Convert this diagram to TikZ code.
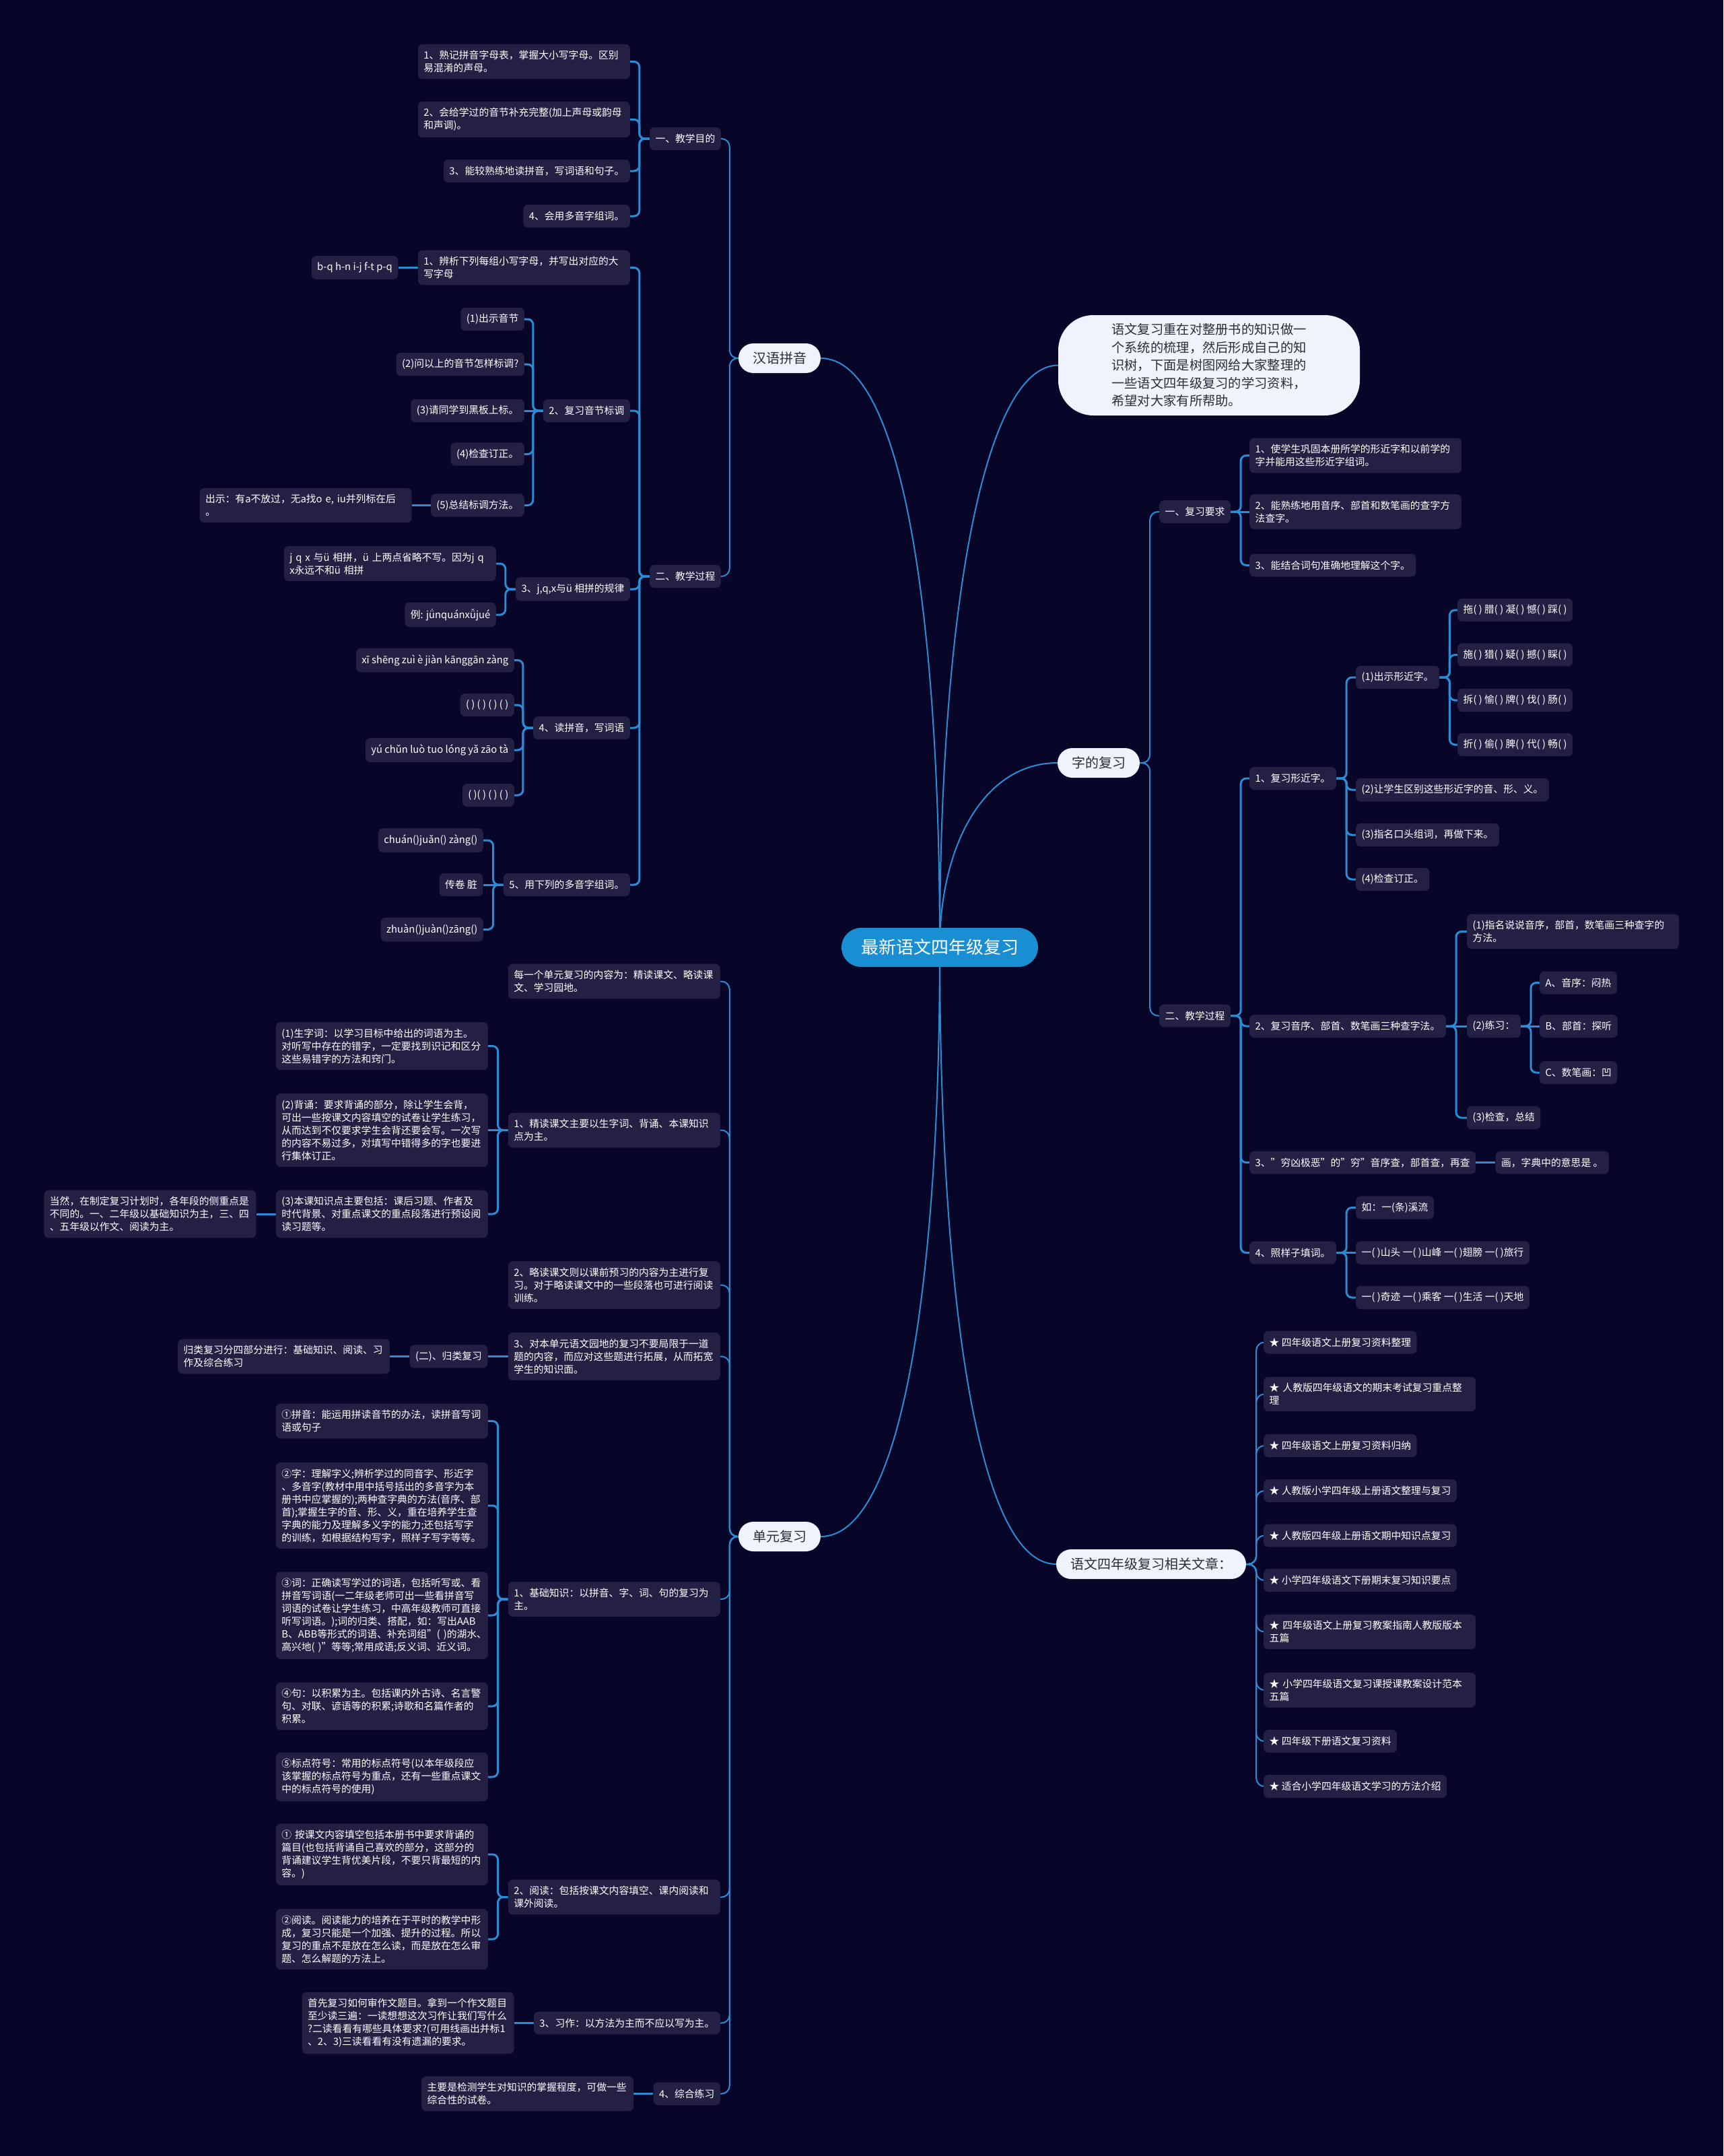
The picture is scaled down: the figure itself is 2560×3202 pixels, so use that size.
\documentclass[tikz,border=0pt]{standalone}
\usepackage{fontspec}
\setmainfont{Noto Sans CJK SC}
\usepackage{tikz}
\usetikzlibrary{positioning}
\definecolor{bgc}{RGB}{8,6,40}
\definecolor{boxc}{RGB}{35,32,68}
\definecolor{lnk}{RGB}{43,140,214}
\definecolor{topc}{RGB}{238,243,253}
\definecolor{rootc}{RGB}{26,142,210}
\definecolor{darkt}{RGB}{45,45,55}
\pgfdeclarelayer{back}
\pgfsetlayers{back,main}
\tikzset{
  leaf/.style={fill=boxc, text=white, rounded corners=7pt, inner xsep=8.5pt, inner ysep=9.5pt,
    minimum height=34pt, align=left, font=\fontsize{14.8}{19}\selectfont},
  wrapbox/.style={leaf, text width=298pt},
  topic/.style={fill=topc, text=darkt, rounded corners=22pt, minimum height=44pt, inner xsep=21pt,
    font=\fontsize{20}{24}\selectfont},
  rootnode/.style={fill=rootc, text=white, rounded corners=29pt, minimum height=58pt, inner xsep=29pt,
    font=\fontsize{26}{30}\selectfont},
  intro/.style={fill=topc, text=darkt, rounded corners=52pt, minimum width=448pt, minimum height=149pt,
    align=left, font=\fontsize{19.3}{26.5}\selectfont},
  trunk/.style={draw=lnk, line width=2pt},
  lbr/.style={draw=lnk, line width=3pt, rounded corners=8pt,
    to path={(\tikztostart.west) -- ([xshift=-15pt]\tikztostart.west) |- (\tikztotarget.east)}},
  rbr/.style={draw=lnk, line width=3pt, rounded corners=8pt,
    to path={(\tikztostart.east) -- ([xshift=15pt]\tikztostart.east) |- (\tikztotarget.west)}},
  lbrt/.style={draw=lnk, line width=2pt, rounded corners=12pt,
    to path={(\tikztostart.west) -- ([xshift=-13pt]\tikztostart.west) |- (\tikztotarget.east)}},
  rbrt/.style={draw=lnk, line width=2pt, rounded corners=12pt,
    to path={(\tikztostart.east) -- ([xshift=15pt]\tikztostart.east) |- (\tikztotarget.west)}},
  lst/.style={draw=lnk, line width=3pt, to path={(\tikztostart.west) -- (\tikztotarget.east)}},
  rst/.style={draw=lnk, line width=3pt, to path={(\tikztostart.east) -- (\tikztotarget.west)}},
}
\begin{document}
\begin{tikzpicture}[x=1pt, y=-1pt]
  \useasboundingbox (0,0) rectangle (2560,3202);
  \begin{pgfonlayer}{back}
    \fill[bgc] (0,0) rectangle (2560,3202);
  \end{pgfonlayer}

  \node[rootnode] (main) at (1396,1407) {最新语文四年级复习};
  \node[intro] (intro) at (1796,542.5) {语文复习重在对整册书的知识做一\\个系统的梳理，然后形成自己的知\\识树，下面是树图网给大家整理的\\一些语文四年级复习的学习资料，\\希望对大家有所帮助。};

  \node[topic] (py) at (1158,532) {汉语拼音};
  \node[topic] (dy) at (1158,2282) {单元复习};
  \node[topic] (zf) at (1632,1133) {字的复习};
  \node[topic] (wz) at (1710,2323) {语文四年级复习相关文章：};

  \node[leaf, anchor=east] (pyA) at (1071,206) {一、教学目的};
  \node[wrapbox, anchor=east] (pyA1) at (936,91.5) {1、熟记拼音字母表，掌握大小写字母。区别\\易混淆的声母。};
  \node[wrapbox, anchor=east] (pyA2) at (936,177.5) {2、会给学过的音节补充完整(加上声母或韵母\\和声调)。};
  \node[leaf, anchor=east] (pyA3) at (936,254) {3、能较熟练地读拼音，写词语和句子。};
  \node[leaf, anchor=east] (pyA4) at (936,321) {4、会用多音字组词。};

  \node[leaf, anchor=east] (pyB) at (1071,856) {二、教学过程};
  \node[wrapbox, anchor=east] (pyB1) at (936,397.5) {1、辨析下列每组小写字母，并写出对应的大\\写字母};
  \node[leaf] (pyB1a) [left=29pt of pyB1] {b-q h-n i-j f-t p-q};
  \node[leaf, anchor=east] (pyB2) at (936,610) {2、复习音节标调};
  \node[leaf, anchor=east] (pyB2a) at (779,474) {(1)出示音节};
  \node[leaf, anchor=east] (pyB2b) at (779,541) {(2)问以上的音节怎样标调?};
  \node[leaf, anchor=east] (pyB2c) at (779,610) {(3)请同学到黑板上标。};
  \node[leaf, anchor=east] (pyB2d) at (779,674.5) {(4)检查订正。};
  \node[leaf, anchor=east] (pyB2e) at (779,750.5) {(5)总结标调方法。};
  \node[wrapbox] (pyB2e1) [left=28pt of pyB2e] {出示：有a不放过，无a找o e, iu并列标在后\\。};
  \node[leaf, anchor=east] (pyB3) at (936,875) {3、j,q,x与ü 相拼的规律};
  \node[wrapbox, anchor=east] (pyB3a) at (737,837) {j q x 与ü 相拼，ü 上两点省略不写。因为j q\\x永远不和ü 相拼};
  \node[leaf, anchor=east] (pyB3b) at (737,913) {例: jǘnquánxǚjué};
  \node[leaf, anchor=east] (pyB4) at (936,1081) {4、读拼音，写词语};
  \node[leaf, anchor=east] (pyB4a) at (764,980.5) {xī shēng zuì è jiàn kānggān zàng};
  \node[leaf, anchor=east] (pyB4b) at (764,1047) {( ) ( ) ( ) ( )};
  \node[leaf, anchor=east] (pyB4c) at (764,1114) {yú chǔn luò tuo lóng yǎ zāo tà};
  \node[leaf, anchor=east] (pyB4d) at (764,1181) {( )( ) ( ) ( )};
  \node[leaf, anchor=east] (pyB5) at (936,1314) {5、用下列的多音字组词。};
  \node[leaf, anchor=east] (pyB5a) at (718,1248) {chuán()juǎn() zàng()};
  \node[leaf] (pyB5b) [left=30pt of pyB5] {传卷 脏};
  \node[leaf, anchor=east] (pyB5c) at (718,1380.5) {zhuàn()juàn()zāng()};

  \node[wrapbox, anchor=east] (dyA) at (1070,1457.5) {每一个单元复习的内容为：精读课文、略读课\\文、学习园地。};
  \node[wrapbox, anchor=east] (dyB) at (1070,1678.5) {1、精读课文主要以生字词、背诵、本课知识\\点为主。};
  \node[wrapbox, anchor=east] (dyB1) at (725,1553.5) {(1)生字词：以学习目标中给出的词语为主。\\对听写中存在的错字，一定要找到识记和区分\\这些易错字的方法和窍门。};
  \node[wrapbox, anchor=east] (dyB2) at (725,1678.5) {(2)背诵：要求背诵的部分，除让学生会背，\\可出一些按课文内容填空的试卷让学生练习，\\从而达到不仅要求学生会背还要会写。一次写\\的内容不易过多，对填写中错得多的字也要进\\行集体订正。};
  \node[wrapbox, anchor=east] (dyB3) at (725,1803) {(3)本课知识点主要包括：课后习题、作者及\\时代背景、对重点课文的重点段落进行预设阅\\读习题等。};
  \node[wrapbox] (dyB3a) [left=29pt of dyB3] {当然，在制定复习计划时，各年段的侧重点是\\不同的。一、二年级以基础知识为主，三、四\\、五年级以作文、阅读为主。};
  \node[wrapbox, anchor=east] (dyC) at (1070,1908.5) {2、略读课文则以课前预习的内容为主进行复\\习。对于略读课文中的一些段落也可进行阅读\\训练。};
  \node[wrapbox, anchor=east] (dyD) at (1070,2014.5) {3、对本单元语文园地的复习不要局限于一道\\题的内容，而应对这些题进行拓展，从而拓宽\\学生的知识面。};
  \node[leaf] (dyD1) [left=30pt of dyD] {(二)、归类复习};
  \node[wrapbox] (dyD1a) [left=29pt of dyD1] {归类复习分四部分进行：基础知识、阅读、习\\作及综合练习};
  \node[wrapbox, anchor=east] (dyE) at (1070,2375) {1、基础知识：以拼音、字、词、句的复习为\\主。};
  \node[wrapbox, anchor=east] (dyE1) at (725,2110.5) {①拼音：能运用拼读音节的办法，读拼音写词\\语或句子};
  \node[wrapbox, anchor=east] (dyE2) at (725,2236) {②字：理解字义;辨析学过的同音字、形近字\\、多音字(教材中用中括号括出的多音字为本\\册书中应掌握的);两种查字典的方法(音序、部\\首);掌握生字的音、形、义，重在培养学生查\\字典的能力及理解多义字的能力;还包括写字\\的训练，如根据结构写字，照样子写字等等。};
  \node[wrapbox, anchor=east] (dyE3) at (725,2399) {③词：正确读写学过的词语，包括听写或、看\\拼音写词语(一二年级老师可出一些看拼音写\\词语的试卷让学生练习，中高年级教师可直接\\听写词语。);词的归类、搭配，如：写出AAB\\B、ABB等形式的词语、补充词组"(~)的湖水、\\高兴地(~)"等等;常用成语;反义词、近义词。};
  \node[wrapbox, anchor=east] (dyE4) at (725,2534) {④句：以积累为主。包括课内外古诗、名言警\\句、对联、谚语等的积累;诗歌和名篇作者的\\积累。};
  \node[wrapbox, anchor=east] (dyE5) at (725,2639) {⑤标点符号：常用的标点符号(以本年级段应\\该掌握的标点符号为重点，还有一些重点课文\\中的标点符号的使用)};
  \node[wrapbox, anchor=east] (dyF) at (1070,2817.5) {2、阅读：包括按课文内容填空、课内阅读和\\课外阅读。};
  \node[wrapbox, anchor=east] (dyF1) at (725,2754) {① 按课文内容填空包括本册书中要求背诵的\\篇目(也包括背诵自己喜欢的部分，这部分的\\背诵建议学生背优美片段，不要只背最短的内\\容。)};
  \node[wrapbox, anchor=east] (dyF2) at (725,2880) {②阅读。阅读能力的培养在于平时的教学中形\\成，复习只能是一个加强、提升的过程。所以\\复习的重点不是放在怎么读，而是放在怎么审\\题、怎么解题的方法上。};
  \node[leaf, anchor=east] (dyG) at (1070,3004.5) {3、习作：以方法为主而不应以写为主。};
  \node[wrapbox] (dyG1) [left=29pt of dyG] {首先复习如何审作文题目。拿到一个作文题目\\至少读三遍：一读想想这次习作让我们写什么\\?二读看看有哪些具体要求?(可用线画出并标1\\、2、3)三读看看有没有遗漏的要求。};
  \node[leaf, anchor=east] (dyH) at (1070,3109.5) {4、综合练习};
  \node[wrapbox] (dyH1) [left=29pt of dyH] {主要是检测学生对知识的掌握程度，可做一些\\综合性的试卷。};

  \node[leaf, anchor=west] (zfA) at (1722,760) {一、复习要求};
  \node[wrapbox, anchor=west] (zfA1) at (1856,676.5) {1、使学生巩固本册所学的形近字和以前学的\\字并能用这些形近字组词。};
  \node[wrapbox, anchor=west] (zfA2) at (1856,760) {2、能熟练地用音序、部首和数笔画的查字方\\法查字。};
  \node[leaf, anchor=west] (zfA3) at (1856,839.5) {3、能结合词句准确地理解这个字。};
  \node[leaf, anchor=west] (zfB) at (1722,1508.5) {二、教学过程};
  \node[leaf, anchor=west] (zfB1) at (1856,1156) {1、复习形近字。};
  \node[leaf, anchor=west] (zfB1a) at (2014,1006) {(1)出示形近字。};
  \node[leaf, anchor=west] (zfB1a1) at (2165,906) {拖( ) 腊( ) 凝( ) 憾( ) 踩( )};
  \node[leaf, anchor=west] (zfB1a2) at (2165,972.5) {施( ) 猎( ) 疑( ) 撼( ) 睬( )};
  \node[leaf, anchor=west] (zfB1a3) at (2165,1040) {拆( ) 愉( ) 牌( ) 伐( ) 肠( )};
  \node[leaf, anchor=west] (zfB1a4) at (2165,1106) {折( ) 偷( ) 脾( ) 代( ) 畅( )};
  \node[leaf, anchor=west] (zfB1b) at (2014,1173) {(2)让学生区别这些形近字的音、形、义。};
  \node[leaf, anchor=west] (zfB1c) at (2014,1240) {(3)指名口头组词，再做下来。};
  \node[leaf, anchor=west] (zfB1d) at (2014,1306) {(4)检查订正。};
  \node[leaf, anchor=west] (zfB2) at (1856,1524) {2、复习音序、部首、数笔画三种查字法。};
  \node[wrapbox, anchor=west] (zfB2a) at (2179,1383.5) {(1)指名说说音序，部首，数笔画三种查字的\\方法。};
  \node[leaf, anchor=west] (zfB2b) at (2179,1524) {(2)练习：};
  \node[leaf, anchor=west] (zfB2b1) at (2287,1459.5) {A、音序：闷热};
  \node[leaf, anchor=west] (zfB2b2) at (2287,1524) {B、部首：探听};
  \node[leaf, anchor=west] (zfB2b3) at (2287,1593) {C、数笔画：凹};
  \node[leaf, anchor=west] (zfB2c) at (2179,1660) {(3)检查，总结};
  \node[leaf, anchor=west] (zfB3) at (1856,1726.5) {3、"穷凶极恶"的"穷"音序查，部首查，再查};
  \node[leaf] (zfB3a) [right=29pt of zfB3] {画，字典中的意思是 。};
  \node[leaf, anchor=west] (zfB4) at (1856,1860.5) {4、照样子填词。};
  \node[leaf, anchor=west] (zfB41) at (2014,1793.5) {如：一(条)溪流};
  \node[leaf, anchor=west] (zfB42) at (2014,1860.5) {一( )山头 一( )山峰 一( )翅膀 一( )旅行};
  \node[leaf, anchor=west] (zfB43) at (2014,1927) {一( )奇迹 一( )乘客 一( )生活 一( )天地};

  \node[leaf, anchor=west] (wz1) at (1877,1993.5) {★ 四年级语文上册复习资料整理};
  \node[wrapbox, anchor=west] (wz2) at (1877,2070.5) {★ 人教版四年级语文的期末考试复习重点整\\理};
  \node[leaf, anchor=west] (wz3) at (1877,2147) {★ 四年级语文上册复习资料归纳};
  \node[leaf, anchor=west] (wz4) at (1877,2214) {★ 人教版小学四年级上册语文整理与复习};
  \node[leaf, anchor=west] (wz5) at (1877,2280.5) {★ 人教版四年级上册语文期中知识点复习};
  \node[leaf, anchor=west] (wz6) at (1877,2347) {★ 小学四年级语文下册期末复习知识要点};
  \node[wrapbox, anchor=west] (wz7) at (1877,2423.5) {★ 四年级语文上册复习教案指南人教版版本\\五篇};
  \node[wrapbox, anchor=west] (wz8) at (1877,2510) {★ 小学四年级语文复习课授课教案设计范本\\五篇};
  \node[leaf, anchor=west] (wz9) at (1877,2586) {★ 四年级下册语文复习资料};
  \node[leaf, anchor=west] (wz10) at (1877,2653) {★ 适合小学四年级语文学习的方法介绍};

  \begin{pgfonlayer}{back}
    \draw[trunk] (main.center) .. controls +(0,-500) and +(120,0) .. (py.east);
    \draw[trunk] (main.center) .. controls +(0,-500) and +(-110,0) .. (intro.west);
    \draw[trunk] (main.center) .. controls +(0,-150) and +(-110,0) .. (zf.west);
    \draw[trunk] (main.center) .. controls +(0,500) and +(120,0) .. (dy.east);
    \draw[trunk] (main.center) .. controls +(0,500) and +(-120,0) .. (wz.west);

    \path (py) edge[lbrt] (pyA) edge[lbrt] (pyB);
    \path (pyA) edge[lbr] (pyA1) edge[lbr] (pyA2) edge[lbr] (pyA3) edge[lbr] (pyA4);
    \path (pyB) edge[lbr] (pyB1) edge[lbr] (pyB2) edge[lbr] (pyB3) edge[lbr] (pyB4) edge[lbr] (pyB5);
    \path (pyB1) edge[lst] (pyB1a);
    \path (pyB2) edge[lbr] (pyB2a) edge[lbr] (pyB2b) edge[lst] (pyB2c) edge[lbr] (pyB2d) edge[lbr] (pyB2e);
    \path (pyB2e) edge[lst] (pyB2e1);
    \path (pyB3) edge[lbr] (pyB3a) edge[lbr] (pyB3b);
    \path (pyB4) edge[lbr] (pyB4a) edge[lbr] (pyB4b) edge[lbr] (pyB4c) edge[lbr] (pyB4d);
    \path (pyB5) edge[lbr] (pyB5a) edge[lst] (pyB5b) edge[lbr] (pyB5c);

    \path (dy) edge[lbrt] (dyA) edge[lbrt] (dyB) edge[lbrt] (dyC) edge[lbrt] (dyD)
      edge[lbrt] (dyE) edge[lbrt] (dyF) edge[lbrt] (dyG) edge[lbrt] (dyH);
    \path (dyB) edge[lbr] (dyB1) edge[lst] (dyB2) edge[lbr] (dyB3);
    \path (dyB3) edge[lst] (dyB3a);
    \path (dyD) edge[lst] (dyD1);
    \path (dyD1) edge[lst] (dyD1a);
    \path (dyE) edge[lbr] (dyE1) edge[lbr] (dyE2) edge[lbr] (dyE3) edge[lbr] (dyE4) edge[lbr] (dyE5);
    \path (dyF) edge[lbr] (dyF1) edge[lbr] (dyF2);
    \path (dyG) edge[lst] (dyG1);
    \path (dyH) edge[lst] (dyH1);

    \path (zf) edge[rbrt] (zfA) edge[rbrt] (zfB);
    \path (zfA) edge[rbr] (zfA1) edge[rst] (zfA2) edge[rbr] (zfA3);
    \path (zfB) edge[rbr] (zfB1) edge[rbr] (zfB2) edge[rbr] (zfB3) edge[rbr] (zfB4);
    \path (zfB1) edge[rbr] (zfB1a) edge[rbr] (zfB1b) edge[rbr] (zfB1c) edge[rbr] (zfB1d);
    \path (zfB1a) edge[rbr] (zfB1a1) edge[rbr] (zfB1a2) edge[rbr] (zfB1a3) edge[rbr] (zfB1a4);
    \path (zfB2) edge[rbr] (zfB2a) edge[rst] (zfB2b) edge[rbr] (zfB2c);
    \path (zfB2b) edge[rbr] (zfB2b1) edge[rst] (zfB2b2) edge[rbr] (zfB2b3);
    \path (zfB3) edge[rst] (zfB3a);
    \path (zfB4) edge[rbr] (zfB41) edge[rst] (zfB42) edge[rbr] (zfB43);

    \path (wz) edge[rbrt] (wz1) edge[rbrt] (wz2) edge[rbrt] (wz3) edge[rbrt] (wz4) edge[rbrt] (wz5)
      edge[rbrt] (wz6) edge[rbrt] (wz7) edge[rbrt] (wz8) edge[rbrt] (wz9) edge[rbrt] (wz10);
  \end{pgfonlayer}
\end{tikzpicture}
\end{document}
